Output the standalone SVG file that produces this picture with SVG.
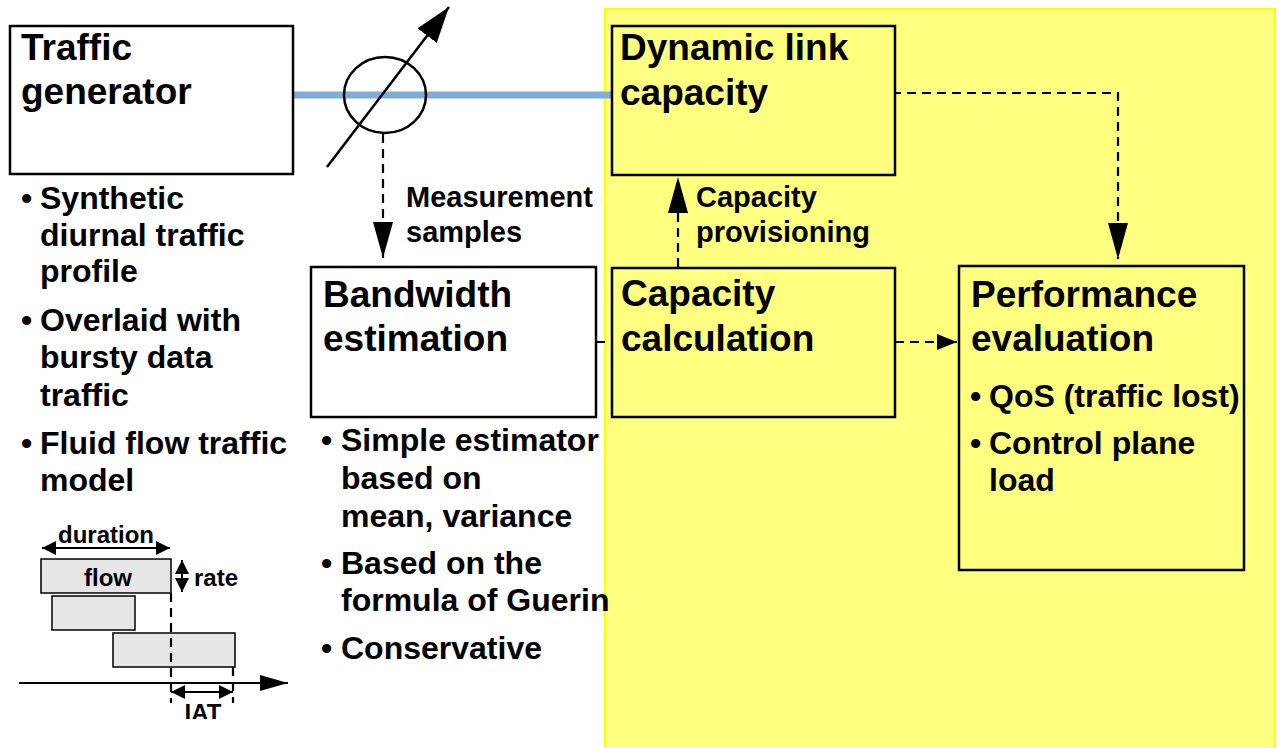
<svg xmlns="http://www.w3.org/2000/svg" width="1279" height="748" viewBox="0 0 1279 748">
<style>
text{font-family:"Liberation Sans",Arial,sans-serif;font-weight:bold;fill:#000}
.t{font-size:37px}
.b{font-size:32px}
.l{font-size:29px}
.s{font-size:24px}
.box{fill:#fff;stroke:#000;stroke-width:2.5}
.ybox{fill:#ffff80;stroke:#000;stroke-width:2.5}
.dash{fill:none;stroke:#000;stroke-width:2.2;stroke-dasharray:9 6}
.ln{fill:none;stroke:#000;stroke-width:2}
.fl{fill:#e6e6e6;stroke:#000;stroke-width:1.5}
</style>
<defs>
<marker id="ah" markerUnits="userSpaceOnUse" markerWidth="36" markerHeight="20" refX="36" refY="10" orient="auto"><path d="M0,0 L36,10 L0,20 z" fill="#000"/></marker>
<marker id="ahs" markerUnits="userSpaceOnUse" markerWidth="20" markerHeight="16" refX="20" refY="8" orient="auto"><path d="M0,0 L20,8 L0,16 z" fill="#000"/></marker>
<marker id="ahb" markerUnits="userSpaceOnUse" markerWidth="36" markerHeight="24" refX="36" refY="12" orient="auto"><path d="M0,0 L36,12 L0,24 z" fill="#000"/></marker>
<marker id="sm" markerUnits="userSpaceOnUse" markerWidth="14" markerHeight="14" refX="14" refY="7" orient="auto-start-reverse"><path d="M0,0 L14,7 L0,14 z" fill="#000"/></marker>
<marker id="ax" markerUnits="userSpaceOnUse" markerWidth="28" markerHeight="16" refX="28" refY="8" orient="auto"><path d="M0,0 L28,8 L0,16 z" fill="#000"/></marker>
<clipPath id="iatclip"><rect x="150" y="690" width="120" height="29"/></clipPath>
</defs>

<rect id="yellow-area" x="605" y="9" width="670" height="745" fill="#ffff80" stroke="#ffff00" stroke-width="2"/>

<g id="connectors">
<line x1="293" y1="95" x2="612" y2="95" stroke="#7fadd8" stroke-width="7"/>
<line class="dash" x1="383" y1="134" x2="383" y2="258" marker-end="url(#ah)"/>
<line class="dash" x1="678" y1="267" x2="678" y2="177" marker-end="url(#ah)"/>
<polyline class="dash" points="892,93 1118,93 1118,259" marker-end="url(#ah)"/>
<line class="dash" x1="596" y1="342" x2="612" y2="342"/>
<line class="dash" x1="895" y1="342" x2="957" y2="342" marker-end="url(#ahs)"/>
</g>

<g id="traffic-generator">
<rect class="box" x="10" y="26" width="283" height="148"/>
<text class="t" x="21" y="60">Traffic</text>
<text class="t" x="21" y="104">generator</text>
<text class="b" x="21" y="209">•</text><text class="b" x="40" y="209">Synthetic</text>
<text class="b" x="40" y="246">diurnal traffic</text>
<text class="b" x="40" y="282">profile</text>
<text class="b" x="21" y="331">•</text><text class="b" x="40" y="331">Overlaid with</text>
<text class="b" x="40" y="368">bursty data</text>
<text class="b" x="40" y="406">traffic</text>
<text class="b" x="21" y="454">•</text><text class="b" x="40" y="454">Fluid flow traffic</text>
<text class="b" x="40" y="491">model</text>
</g>

<g id="measurement">
<ellipse cx="385" cy="95" rx="41" ry="38" fill="none" stroke="#000" stroke-width="2.5"/>
<line x1="327" y1="167" x2="449" y2="7" stroke="#000" stroke-width="2.5" marker-end="url(#ahb)"/>
<text class="l" x="406" y="207">Measurement</text>
<text class="l" x="406" y="242">samples</text>
</g>

<g id="bandwidth-estimation">
<rect class="box" x="311" y="267" width="285" height="150"/>
<text class="t" x="323" y="307">Bandwidth</text>
<text class="t" x="323" y="351">estimation</text>
<text class="b" x="321" y="451">•</text><text class="b" x="341" y="451">Simple estimator</text>
<text class="b" x="341" y="489">based on</text>
<text class="b" x="341" y="527">mean, variance</text>
<text class="b" x="321" y="574">•</text><text class="b" x="341" y="574">Based on the</text>
<text class="b" x="341" y="611">formula of Guerin</text>
<text class="b" x="321" y="659">•</text><text class="b" x="341" y="659">Conservative</text>
</g>

<g id="dynamic-link-capacity">
<rect class="ybox" x="612" y="26" width="283" height="149"/>
<text class="t" x="620" y="60">Dynamic link</text>
<text class="t" x="620" y="105">capacity</text>
</g>

<g id="capacity-provisioning-label">
<text class="l" x="696" y="207">Capacity</text>
<text class="l" x="696" y="242">provisioning</text>
</g>

<g id="capacity-calculation">
<rect class="ybox" x="612" y="268" width="283" height="149"/>
<text class="t" x="621" y="306">Capacity</text>
<text class="t" x="621" y="351">calculation</text>
</g>

<g id="performance-evaluation">
<rect class="ybox" x="959" y="266" width="285" height="304"/>
<text class="t" x="971" y="307">Performance</text>
<text class="t" x="971" y="351">evaluation</text>
<text class="b" x="970" y="407">•</text><text class="b" x="989" y="407">QoS (traffic lost)</text>
<text class="b" x="970" y="454">•</text><text class="b" x="989" y="454">Control plane</text>
<text class="b" x="989" y="491">load</text>
</g>

<g id="flow-model">
<line class="ln" x1="42" y1="548" x2="170" y2="548" marker-start="url(#sm)" marker-end="url(#sm)"/>
<text class="s" x="106" y="543" text-anchor="middle">duration</text>
<rect class="fl" x="41" y="559" width="130" height="34"/>
<text class="s" x="108" y="586" text-anchor="middle">flow</text>
<line class="ln" x1="182" y1="560" x2="182" y2="592" marker-start="url(#sm)" marker-end="url(#sm)"/>
<text class="s" x="194" y="586">rate</text>
<rect class="fl" x="52" y="596" width="83" height="34"/>
<rect class="fl" x="113" y="633" width="122" height="34"/>
<line class="dash" x1="171" y1="593" x2="171" y2="703" stroke-width="1.5" stroke-dasharray="7 5"/>
<line class="dash" x1="233" y1="667" x2="233" y2="703" stroke-width="1.5" stroke-dasharray="7 5"/>
<line class="ln" x1="19" y1="683" x2="288" y2="683" marker-end="url(#ax)"/>
<line class="ln" x1="171" y1="692" x2="233" y2="692" marker-start="url(#sm)" marker-end="url(#sm)"/>
<text class="s" x="203" y="721" text-anchor="middle" clip-path="url(#iatclip)">IAT</text>
</g>
</svg>
